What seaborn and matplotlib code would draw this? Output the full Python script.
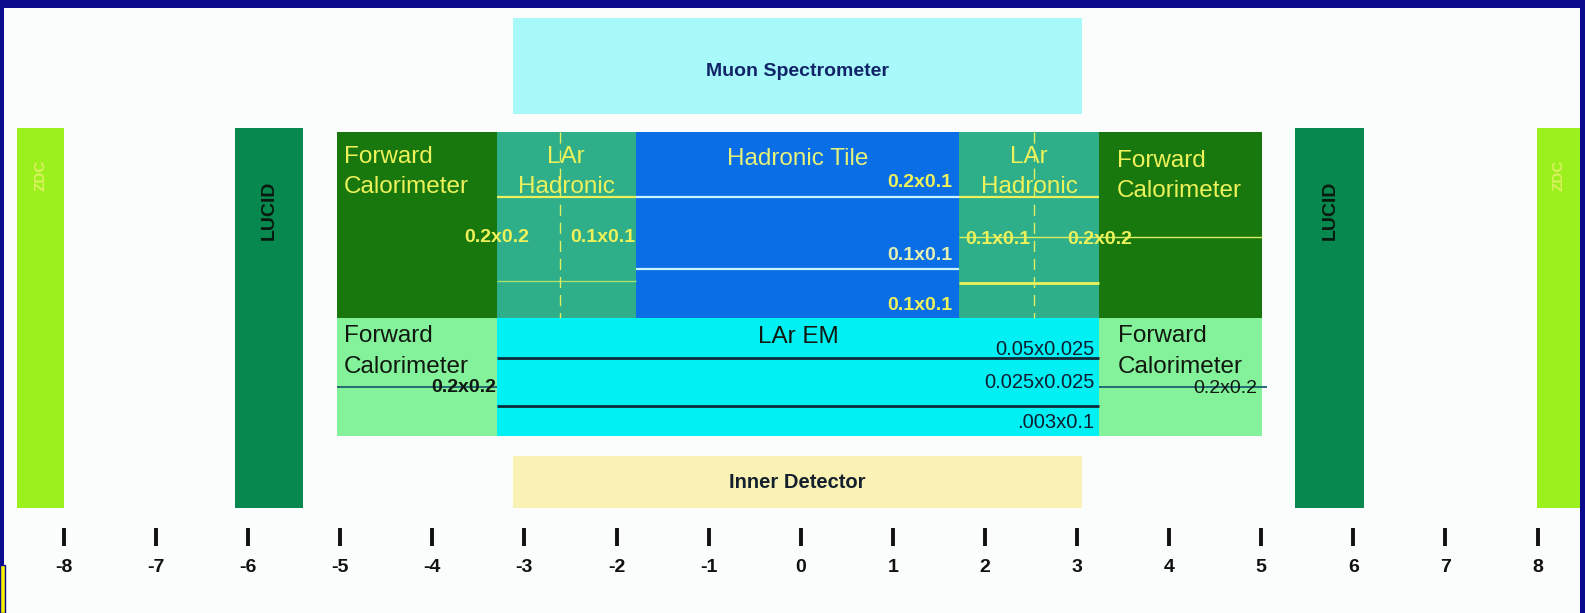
import numpy as np
import pandas as pd
import seaborn as sns
import matplotlib.pyplot as plt
from matplotlib.patches import Rectangle

# eta coverage of the detector parts
zdc = [(-8.51, -8.0), (7.99, 8.46)]
lucid = [(-6.14, -5.40), (5.37, 6.12)]
fcal = [(-5.03, -3.30), (3.24, 5.01)]
lar_had = [(-3.30, -1.79), (1.72, 3.24)]
tile = (-1.79, 1.72)
lar_em = (-3.30, 3.24)
muon = (-3.12, 3.05)
inner = (-3.12, 3.05)
lar_had_split = [-2.61, 2.53]
eta_ticks = np.arange(-8, 9)

# granularity labels
tile_cells = ['0.2x0.1', '0.1x0.1', '0.1x0.1']
em_cells = ['0.05x0.025', '0.025x0.025', '.003x0.1']
fcal_cell = '0.2x0.2'
lar_had_cell = '0.1x0.1'

sns.set_theme(style='white')
plt.rcParams['font.family'] = ['Liberation Sans', 'DejaVu Sans']

border = '#0b0b8e'
yellow = '#eef25a'

fig = plt.figure(figsize=(15.85, 6.13), dpi=100)
fig.patch.set_facecolor(border)
W, H = 1585, 613
L, R, T = 4, 5, 8
ax = fig.add_axes([L / W, 0, (W - L - R) / W, (H - T) / H])
ax.set_facecolor('#fbfdfd')
px0, scale = 800.7, 92.1
ax.set_xlim((L - px0) / scale, (W - R - px0) / scale)
ax.set_ylim(H, T)
ax.set_xticks([])
ax.set_yticks([])
sns.despine(ax=ax, left=True, bottom=True)
ax.grid(False)


def box(span, top, bottom, color):
    ax.bar(span[0], bottom - top, width=span[1] - span[0], bottom=top,
           align='edge', color=color, linewidth=0)


# outer boxes
box(muon, 18, 114, '#a8fafa')
box(inner, 456, 508, '#faf2b4')
for s in zdc:
    box(s, 128, 508, '#9cf01e')
for s in lucid:
    box(s, 128, 508, '#07884e')

# hadronic layer
for s in fcal:
    box(s, 132, 318, '#18780e')
for s in lar_had:
    box(s, 132, 318, '#2fae8a')
box(tile, 132, 318, '#0a6fe6')

# em layer
for s in fcal:
    box(s, 318, 436, '#84f29a')
box(lar_em, 318, 436, '#00f0f4')

# cell boundaries
ax.hlines(197, lar_had[0][0], lar_had[0][1], color=yellow, lw=1.6)
ax.hlines(197, lar_had[1][0], lar_had[1][1], color=yellow, lw=1.6)
ax.hlines([197, 269], tile[0], tile[1], color='#c8f4ff', lw=1.6)
ax.hlines(281, lar_had[0][0], lar_had[0][1], color='#a8e070', lw=1.0)
ax.hlines(283, lar_had[1][0], lar_had[1][1], color=yellow, lw=2.0)
ax.hlines(237, lar_had[1][0], fcal[1][1], color='#d8ee60', lw=1.0)
ax.vlines(lar_had_split, 132, 318, color='#e0f060', lw=1.0, linestyles=(0, (8, 5)))
ax.hlines([358, 406], lar_em[0], lar_em[1], color='#0d2a38', lw=2.0)
ax.hlines(387, fcal[0][0], fcal[0][1], color='#1d6070', lw=1.3)
ax.hlines(387, fcal[1][0], fcal[1][1] + 0.05, color='#1d6070', lw=1.3)


# texts
def tx(x, y, s, **kw):
    kw.setdefault('va', 'baseline')
    ax.text(x, y, s, **kw)


ax.text(np.mean(muon), 71, 'Muon Spectrometer', ha='center', va='center',
        fontsize=14, fontweight='semibold', color='#122468')
ax.text(np.mean(inner), 482, 'Inner Detector', ha='center', va='center',
        fontsize=14.5, fontweight='semibold', color='#14202e')
for s in lucid:
    ax.text(np.mean(s), 210, 'LUCID', rotation=90, ha='center', va='center',
            fontsize=14, fontweight='bold', color='#0a1a10')
for s in zdc:
    ax.text(np.mean(s), 175, 'ZDC', rotation=90, ha='center', va='center',
            fontsize=11, fontweight='bold', color='#dcf060')

fs = 17.5
tx(fcal[0][0] + 0.07, 163, 'Forward', fontsize=fs, color=yellow)
tx(fcal[0][0] + 0.07, 193, 'Calorimeter', fontsize=fs, color=yellow)
tx(fcal[1][0] + 0.19, 167, 'Forward', fontsize=fs, color=yellow)
tx(fcal[1][0] + 0.19, 197, 'Calorimeter', fontsize=fs, color=yellow)
for s in lar_had:
    tx(np.mean(s), 163, 'LAr', ha='center', fontsize=fs, color=yellow)
    tx(np.mean(s), 193, 'Hadronic', ha='center', fontsize=fs, color=yellow)
tx(np.mean(tile), 165, 'Hadronic Tile', ha='center', fontsize=fs, color='#e4f27a')

for y, lab, c in zip([187, 260, 310], tile_cells, [yellow, '#e4f0b0', yellow]):
    tx(tile[1] - 0.07, y, lab, ha='right', fontsize=14, fontweight='semibold', color=c)
tx(lar_had[0][0], 242, fcal_cell, ha='center', fontsize=14, fontweight='semibold', color=yellow)
tx(lar_had[0][1], 242, lar_had_cell, ha='right', fontsize=14, fontweight='semibold', color=yellow)
tx(lar_had[1][0] + 0.07, 244, lar_had_cell, ha='left', fontsize=14, fontweight='semibold', color=yellow)
tx(lar_had[1][1] - 0.35, 244, fcal_cell, ha='left', fontsize=14, fontweight='semibold', color=yellow)

tx(fcal[0][0] + 0.07, 342, 'Forward', fontsize=fs, color='#101810')
tx(fcal[0][0] + 0.07, 373, 'Calorimeter', fontsize=fs, color='#101810')
tx(fcal[0][1] - 0.01, 392, fcal_cell, ha='right', fontsize=14, fontweight='semibold', color='#101810')
tx(fcal[1][0] + 0.2, 342, 'Forward', fontsize=fs, color='#101810')
tx(fcal[1][0] + 0.2, 373, 'Calorimeter', fontsize=fs, color='#101810')
tx(fcal[1][1] - 0.05, 393, fcal_cell, ha='right', fontsize=14, color='#101810')
tx(np.mean(lar_em), 343, 'LAr EM', ha='center', fontsize=fs, color='#101810')
for y, lab in zip([355, 388, 428], em_cells):
    tx(lar_em[1] - 0.05, y, lab, ha='right', fontsize=14.5, color='#0d1e30')

# eta axis
ax.vlines(eta_ticks, 528, 546, color='#111111', lw=2.8)
for e in eta_ticks:
    ax.text(e, 568, str(e), ha='center', va='center', fontsize=14,
            fontweight='bold', color='#111111')

# small yellow marker at the slide corner
fig.patches.append(Rectangle((0, 0), 5 / W, 48 / H, transform=fig.transFigure,
                             facecolor='#f4f000', edgecolor=border, lw=1))

fig.savefig('out.png', dpi=100, facecolor=fig.get_facecolor())
